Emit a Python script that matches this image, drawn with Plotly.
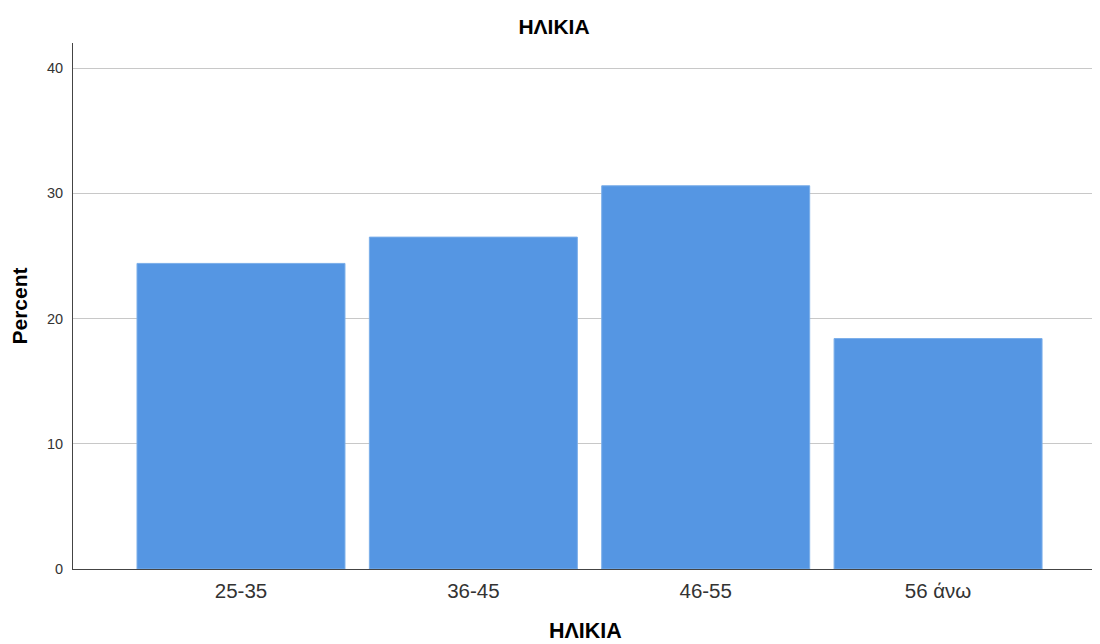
import plotly.graph_objects as go

categories = ["25-35", "36-45", "46-55", "56 άνω"]
percent = [24.4, 26.5, 30.6, 18.4]
y_ticks = [0, 10, 20, 30, 40]

W, H = 1092, 636

fig = go.Figure(go.Bar(
    x=categories, y=percent,
    marker=dict(color="#5596e3", line=dict(color="#7aaee9", width=1)),
))

fig.update_layout(
    width=W, height=H,
    margin=dict(l=65, r=3, t=35, b=75),
    paper_bgcolor="white", plot_bgcolor="white",
    bargap=0.105,
    showlegend=False,
    font=dict(family="Arial, Liberation Sans, sans-serif", color="#222"),
    title=dict(text="<b>ΗΛΙΚΙΑ</b>", x=0.5, xanchor="center", xref="container",
               y=1 - 19 / H, yref="container", yanchor="middle",
               font=dict(size=21, color="black"), automargin=False),
)
fig.add_annotation(
    text="<b>ΗΛΙΚΙΑ</b>", xref="paper", yref="paper", x=0.5, y=0,
    xanchor="center", yanchor="middle", yshift=-62, showarrow=False,
    font=dict(size=21.5, color="black"),
)
fig.update_xaxes(
    range=[-0.723, 3.684], showline=True, linecolor="#444", linewidth=1,
    showgrid=False, ticks="", ticklabelstandoff=3,
    tickfont=dict(size=20.5, color="#333"), automargin=False,
)
fig.update_yaxes(
    range=[0, 42], tickvals=y_ticks, showline=True, linecolor="#444", linewidth=1,
    showgrid=True, gridcolor="#c8c8c8", gridwidth=1, zeroline=False, automargin=False,
    ticks="", ticklabelstandoff=6, tickfont=dict(size=14.5, color="#333"),
    title=dict(text="<b>Percent</b>", font=dict(size=21, color="black"), standoff=30),
)

fig.write_html("out.html")
